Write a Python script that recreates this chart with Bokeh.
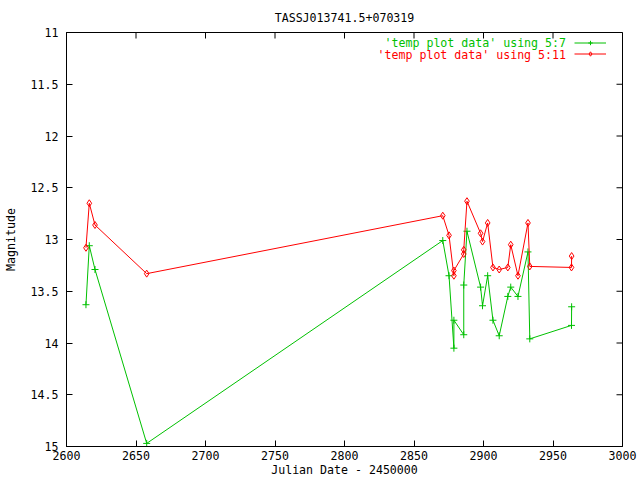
import math
from bokeh.plotting import figure
from bokeh.models import Range1d, FixedTicker, Label, Legend, LegendItem
from bokeh.embed import file_html
from bokeh.resources import INLINE

# ---- data ----
jd = [2614.0, 2616.4, 2620.5, 2657.7, 2870.7, 2875.2, 2878.7, 2878.7, 2885.8, 2885.8,
      2888.1, 2897.9, 2899.3, 2903.0, 2906.8, 2911.3, 2917.5, 2919.6, 2924.8, 2932.0,
      2933.3, 2963.3, 2963.4]
mag_5_7 = [13.63, 13.06, 13.29, 14.97, 13.01, 13.35, 14.05, 13.78, 13.92, 13.44,
           12.92, 13.46, 13.64, 13.35, 13.78, 13.93, 13.55, 13.46, 13.55, 13.12,
           13.96, 13.83, 13.65]
mag_5_11 = [13.08, 12.65, 12.86, 13.33, 12.77, 12.96, 13.35, 13.30, 13.14, 13.10,
            12.63, 12.94, 13.02, 12.84, 13.27, 13.29, 13.27, 13.05, 13.35, 12.84,
            13.26, 13.27, 13.16]
x_ticks = [2600, 2650, 2700, 2750, 2800, 2850, 2900, 2950, 3000]
y_ticks = [11, 11.5, 12, 12.5, 13, 13.5, 14, 14.5, 15]
y_tick_labels = ["11", "11.5", "12", "12.5", "13", "13.5", "14", "14.5", "15"]
series_names = ["'temp plot data' using 5:7", "'temp plot data' using 5:11"]
title_text = "TASSJ013741.5+070319"
x_title = "Julian Date - 2450000"
y_title = "Magnitude"

GREEN = "#00c000"
RED = "#ff0000"
FONT = "DejaVu Sans Mono"
FS = "11.6px"

p = figure(width=640, height=480, x_range=Range1d(x_ticks[0], x_ticks[-1]),
           y_range=Range1d(y_ticks[-1], y_ticks[0]),
           output_backend="svg", toolbar_location=None,
           min_border_left=65, min_border_right=18, min_border_top=32, min_border_bottom=34)
p.title.text = title_text
p.title.align = "center"
p.title.text_font = FONT
p.title.text_font_size = FS
p.title.text_font_style = "normal"
p.title.text_color = "black"
p.title.standoff = 15
p.grid.visible = False
p.outline_line_color = "black"
p.outline_line_width = 1
p.background_fill_color = "white"
p.border_fill_color = "white"

for ax in (p.xaxis[0], p.yaxis[0]):
    ax.major_tick_in = 6
    ax.major_tick_out = 0
    ax.minor_tick_line_color = None
    ax.axis_line_color = "black"
    ax.major_tick_line_color = "black"
    ax.major_label_text_font = FONT
    ax.major_label_text_font_size = FS
    ax.major_label_text_color = "black"
    ax.axis_label_text_font = FONT
    ax.axis_label_text_font_size = FS
    ax.axis_label_text_font_style = "normal"
    ax.axis_label_text_color = "black"

p.xaxis.ticker = FixedTicker(ticks=x_ticks)
p.yaxis.ticker = FixedTicker(ticks=y_ticks)
p.yaxis.major_label_overrides = {t: l for t, l in zip(y_ticks, y_tick_labels)}
p.xaxis.major_label_standoff = 4
p.yaxis.major_label_standoff = 8
p.xaxis.axis_label = x_title
p.xaxis.axis_label_standoff = 0
p.yaxis.axis_label = y_title
p.yaxis.axis_label_standoff = 10

# mirrored tick marks on the top and right edges (half of each dash is clipped by the frame)
p.scatter(x_ticks, [y_ticks[0]] * len(x_ticks), marker="dash", angle=math.pi / 2,
          size=12, line_color="black", line_width=1)
p.scatter([x_ticks[-1]] * len(y_ticks), y_ticks, marker="dash",
          size=12, line_color="black", line_width=1)

gl = p.line(jd, mag_5_7, line_color=GREEN, line_width=1)
gs = p.scatter(jd, mag_5_7, marker="cross", size=7, line_color=GREEN, line_width=1)
rl = p.line(jd, mag_5_11, line_color=RED, line_width=1)
rs = p.scatter(jd, mag_5_11, marker="diamond", size=7, line_color=RED, fill_alpha=0, line_width=1)

legend = Legend(items=[LegendItem(label="", renderers=[gl, gs]),
                       LegendItem(label="", renderers=[rl, rs])],
                location=(508, 387), glyph_width=32, glyph_height=11, label_height=11,
                label_width=0, label_standoff=0, spacing=0, padding=0, margin=0,
                border_line_alpha=0, background_fill_alpha=0)
p.add_layout(legend)

p.add_layout(Label(x=499.5, y=403.3, x_units="screen", y_units="screen", text=series_names[0],
                   text_align="right", text_baseline="middle", text_font=FONT,
                   text_font_size=FS, text_color=GREEN))
p.add_layout(Label(x=499.5, y=392, x_units="screen", y_units="screen", text=series_names[1],
                   text_align="right", text_baseline="middle", text_font=FONT,
                   text_font_size=FS, text_color=RED))

open("out.html", "w").write(file_html(p, INLINE))
